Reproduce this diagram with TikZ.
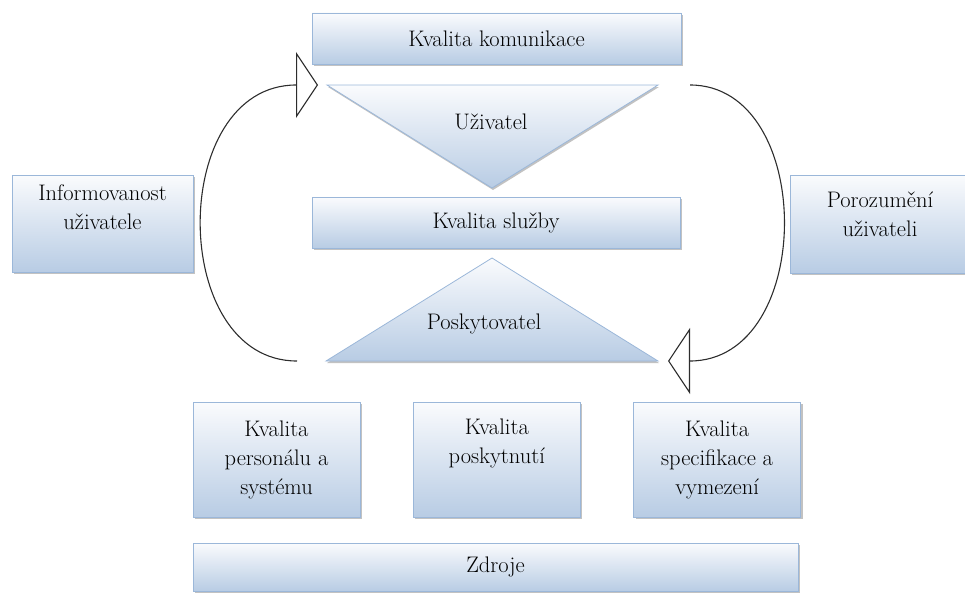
\documentclass[tikz,border=0pt]{standalone}
\usetikzlibrary{positioning,shadows,arrows.meta}

\definecolor{boxline}{RGB}{155,183,217}
\definecolor{boxtop}{RGB}{250,251,253}
\definecolor{boxbottom}{RGB}{184,204,228}
\definecolor{loopline}{RGB}{45,45,45}

\tikzset{
  boxtext/.style={align=center, text=black, font=\fontsize{22.5}{29}\selectfont},
  box/.style={rectangle, draw=boxline, line width=0.8pt, top color=boxtop, bottom color=boxbottom,
    drop shadow={shadow xshift=2pt, shadow yshift=-2pt, fill=black!40, opacity=0.6}, inner sep=0pt, boxtext},
  tri/.style={draw=boxline, line width=0.8pt, top color=boxtop, bottom color=boxbottom,
    drop shadow={shadow xshift=1pt, shadow yshift=-2pt, fill=black!40, opacity=0.6}},
  loop/.style={draw=loopline, line width=1.1pt, -{Triangle[length=22pt, width=66pt, fill=white]}}
}

\begin{document}
\begin{tikzpicture}[x=1pt, y=-1pt]
\clip (0,0) rectangle (965,594);

% Triangle corners
\coordinate (uL) at (327,85);
\coordinate (uR) at (658,85);
\coordinate (uA) at (492,188);
\coordinate (pL) at (326,361);
\coordinate (pR) at (658,361);
\coordinate (pA) at (492,258);

% Triangles
\path[tri] (uL) -- (uR) -- (uA) -- cycle;
\path[tri] (pA) -- (pR) -- (pL) -- cycle;

% Middle column
\node (komunikace) [box, minimum width=369, minimum height=51] at (496.5,38.5) {Kvalita komunikace};
\node (uzivatel) [boxtext] at (491,122) {Uživatel};
\node (sluzby) [box, minimum width=368, minimum height=51] at (496,222.5) {Kvalita služby};
\node (poskytovatel) [boxtext] at (484,324) {Poskytovatel};

% Side boxes
\node (informovanost) [box, minimum width=181, minimum height=97, label={[boxtext, yshift=16pt]center:Informovanost\\uživatele}] at (102.5,223.5) {};
\node (porozumeni) [box, minimum width=180, minimum height=98, label={[boxtext, yshift=10pt]center:Porozumění\\uživateli}] at (880,224) {};

% Bottom row
\node (personal) [box, minimum width=167, minimum height=115] at (276.5,459.5) {Kvalita\\personálu a\\systému};
\node (poskytnuti) [box, minimum width=167, minimum height=115, right=52.5pt of personal] {Kvalita\\poskytnutí\\[-2pt]\strut};
\node (specifikace) [box, minimum width=167, minimum height=115, right=52.5pt of poskytnuti] {Kvalita\\specifikace a\\vymezení};
\node (zdroje) [box, minimum width=605, minimum height=48] at (495.5,567) {Zdroje};

% Loops
\draw[loop] ([xshift=-29pt]pL) .. controls (168,361) and (168,85) .. ([xshift=-9pt]uL);
\draw[loop] ([xshift=32pt]uR) .. controls (816,85) and (816,361) .. ([xshift=10pt]pR);

\end{tikzpicture}
\end{document}
